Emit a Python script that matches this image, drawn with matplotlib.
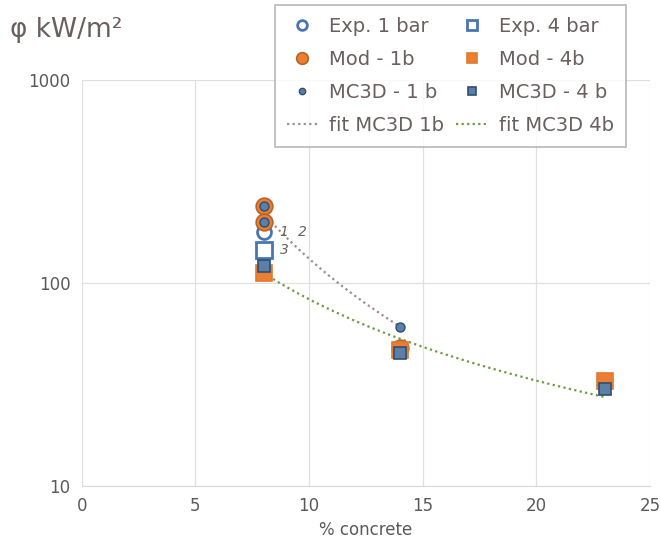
import numpy as np
import matplotlib
matplotlib.use("Agg")
import matplotlib.pyplot as plt

# values
exp1_x = [8]
exp1_y = [178]
exp4_x = [8]
exp4_y = [145]
mod1_x = [8, 8, 14]
mod1_y = [240, 200, 48]
mod4_x = [8, 14, 23]
mod4_y = [112, 47, 33]
mc1_x = [8, 8, 14]
mc1_y = [240, 200, 61]
mc4_x = [8, 14, 23]
mc4_y = [121, 45, 30]
note_x = [8.9, 9.7, 8.9]
note_y = [178, 178, 145]
note_txt = ["1", "2", "3"]

blue = "#4A76B0"
orange = "#ED7D31"
txt = "#6B5E5E"


def power_fit(x, y):
    b, a = np.polyfit(np.log10(x), np.log10(y), 1)
    xs = np.linspace(min(x), max(x), 100)
    return xs, 10 ** (a + b * np.log10(xs))


fig = plt.figure(figsize=(6.6, 5.5), dpi=100)
ax = fig.add_axes([0.124, 0.116, 0.861, 0.739])

fx1, fy1 = power_fit(mc1_x, mc1_y)
fx4, fy4 = power_fit(mc4_x, mc4_y)
l_f1, = ax.plot(fx1, fy1, ls=(0, (1, 1.5)), color="#A08C8C", lw=1.6, zorder=2)
l_f4, = ax.plot(fx4, fy4, ls=(0, (1, 1.5)), color="#6E9A45", lw=1.6, zorder=2)

l_e1, = ax.plot(exp1_x, exp1_y, "o", ms=10, mfc="white", mec=blue, mew=2, ls="none", zorder=3)
l_e4, = ax.plot(exp4_x, exp4_y, "s", ms=11, mfc="white", mec=blue, mew=2, ls="none", zorder=3)
l_m1, = ax.plot(mod1_x, mod1_y, "o", ms=12, mfc=orange, mec="#B5642A", mew=1.2, ls="none", zorder=4)
l_m4, = ax.plot(mod4_x, mod4_y, "s", ms=11, mfc=orange, mec="#E07A30", mew=1.2, ls="none", zorder=4)
l_c1, = ax.plot(mc1_x, mc1_y, "o", ms=6.5, mfc="#5A80A8", mec="#2F4E73", mew=1, ls="none", zorder=5)
l_c4, = ax.plot(mc4_x, mc4_y, "s", ms=9, mfc="#5A80A8", mec="#2F4E73", mew=1.2, ls="none", zorder=5)

for x, y, t in zip(note_x, note_y, note_txt):
    ax.text(x, y, t, fontsize=10, style="italic", color="#6B6060", ha="center", va="center")

ax.set_yscale("log")
ax.set_xlim(0, 25)
ax.set_ylim(10, 1000)
ax.set_xticks([0, 5, 10, 15, 20, 25])
ax.set_yticks([10, 100, 1000])
ax.set_yticklabels(["10", "100", "1000"])
ax.minorticks_off()
ax.grid(True, color="#E0E0E0", lw=0.9)
for s in ax.spines.values():
    s.set_visible(False)
ax.spines["bottom"].set_visible(True)
ax.spines["bottom"].set_color("#D9D9D9")
ax.tick_params(length=0, labelsize=12, labelcolor="#595959", pad=8)
ax.set_xlabel("% concrete", fontsize=12, color="#595959", labelpad=4)

fig.text(0.015, 0.945, "φ kW/m²", fontsize=19, color=txt, va="center")

handles = [l_e1, l_m1, l_c1, l_f1, l_e4, l_m4, l_c4, l_f4]
labels = ["Exp. 1 bar", "Mod - 1b", "MC3D - 1 b", "fit MC3D 1b",
          "Exp. 4 bar", "Mod - 4b", "MC3D - 4 b", "fit MC3D 4b"]
leg = fig.legend(handles, labels, ncol=2, loc="upper left",
                 bbox_to_anchor=(0.402, 1.008), fontsize=14, frameon=True,
                 fancybox=False, edgecolor="#A6A6A6", handlelength=1.6,
                 columnspacing=0.6, labelspacing=0.72, borderpad=0.6,
                 handletextpad=0.6, markerscale=0.7)
leg.get_frame().set_linewidth(1.2)
for t in leg.get_texts():
    t.set_color(txt)

fig.savefig("out.png", dpi=100)
